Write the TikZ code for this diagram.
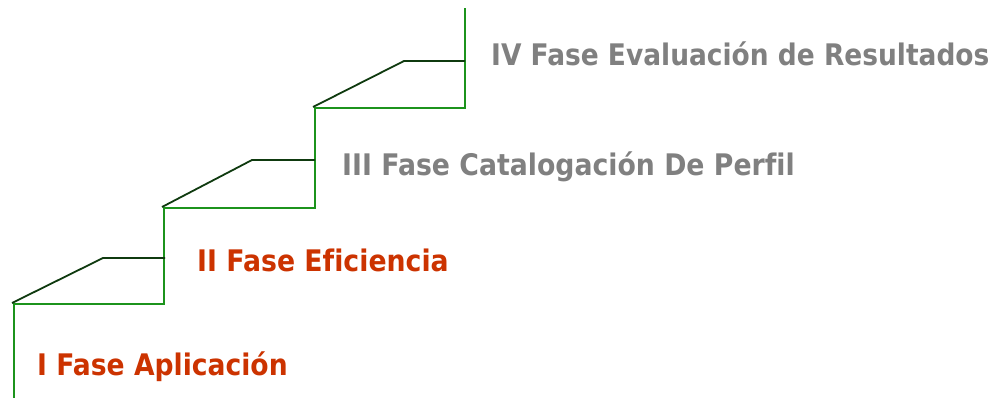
\documentclass[tikz,border=0pt]{standalone}
\usepackage{fontspec}
\setmainfont{DejaVu Sans}[Ligatures={NoCommon}]
\definecolor{stepgreen}{HTML}{1C931C}
\definecolor{stepdark}{HTML}{0F3A0F}
\definecolor{phasered}{HTML}{CC3300}
\definecolor{phasegray}{HTML}{808080}
\tikzset{
  riser/.style={draw=stepgreen, line width=2pt},
  nosing/.style={draw=stepdark, line width=1.8pt},
  phase/.style={anchor=base west, inner sep=0pt, font=\fontsize{27}{30}\selectfont\bfseries},
}
\begin{document}
\begin{tikzpicture}[x=1pt,y=-1pt]
\useasboundingbox[fill=white] (0,0) rectangle (994,398);
% step corners
\coordinate (b0) at (14,398);
\coordinate (c1) at (14,304);
\coordinate (r1) at (164,304);
\coordinate (t1) at (164,207);
\coordinate (d1) at (103,258);
\coordinate (e1) at (165,258);
\coordinate (c2) at (164,208);
\coordinate (r2) at (315,208);
\coordinate (t2) at (315,107);
\coordinate (d2) at (252,160);
\coordinate (e2) at (315,160);
\coordinate (c3) at (314,108);
\coordinate (r3) at (465,108);
\coordinate (t3) at (465,8);
\coordinate (d3) at (404,61);
\coordinate (e3) at (465,61);
% green risers and treads
\draw[riser] (b0) -- (c1) -- (r1) -- (t1);
\draw[riser] (c2) -- (r2) -- (t2);
\draw[riser] (c3) -- (r3) -- (t3);
% dark nosing lines
\draw[nosing] (12,303) -- (d1) -- (e1);
\draw[nosing] (162,207) -- (d2) -- (e2);
\draw[nosing] (313,107) -- (d3) -- (e3);
% labels
\node[phase, text=phasered] (p1) at (37,375) {\scalebox{0.985}[1.1]{I Fase Aplicación}};
\node[phase, text=phasered] (p2) at (197,272) {\scalebox{0.99}[1.1]{II Fase Eficiencia}};
\node[phase, text=phasegray] (p3) at (342,176) {\scalebox{0.99}[1.1]{III Fase Catalogación De Perfil}};
\node[phase, text=phasegray] (p4) at (491,66) {\scalebox{0.98}[1.1]{IV Fase Evaluación de Resultados}};
\end{tikzpicture}
\end{document}
